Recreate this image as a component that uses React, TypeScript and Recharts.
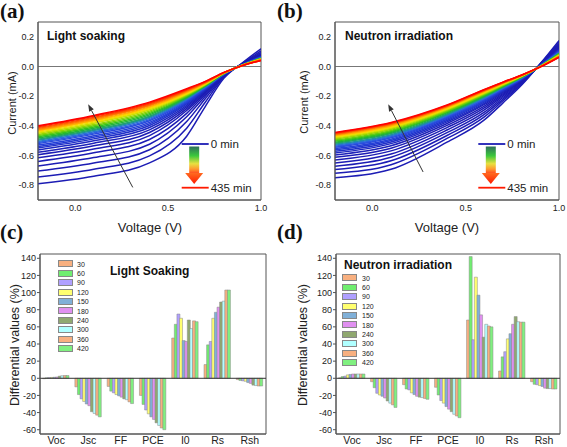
import React from 'react';
import { LineChart, Line, BarChart, Bar, XAxis, YAxis, ReferenceLine, ReferenceArea } from 'recharts';

// I-V sweeps: voltage points (V) and measurement times (min)
const voltages = [-0.2, 0.1, 0.4, 0.6, 0.7, 0.8, 0.9, 1.0];
const minutes = [0, 15, 30, 45, 60, 75, 90, 105, 120, 135, 150, 165, 180, 195, 210, 225, 240, 255, 270, 285, 300, 315, 330, 345, 360, 375, 390, 405, 420, 435];

const curveColors = [
  '#1c1cb4', '#1c1cb4', '#1c1cb4', '#1c1cb4', '#1c1cb4', '#1c1cb4', '#1c1cb4', '#1e22b8', '#1e28c0', '#2030c8',
  '#2238d0', '#2440d8', '#2848dc', '#2c58e0', '#2a70d8', '#1e8ca8', '#20a070', '#20b040', '#30c020', '#60cc10',
  '#90d400', '#c0dc00', '#e8e000', '#ffd000', '#ffb000', '#ff9000', '#ff7000', '#ff5000', '#ff2800', '#ff0000',
];

// current (mA) of each sweep, one row per voltage point — light soaking
const soakingCurrents = [
  [-0.79, -0.745, -0.705, -0.67, -0.64, -0.615, -0.595, -0.578, -0.563, -0.55, -0.54, -0.53, -0.52, -0.512, -0.505, -0.497, -0.49, -0.482, -0.474, -0.466, -0.458, -0.45, -0.443, -0.436, -0.43, -0.424, -0.418, -0.412, -0.406, -0.40],
  [-0.74, -0.693, -0.651, -0.614, -0.582, -0.556, -0.535, -0.517, -0.501, -0.488, -0.477, -0.467, -0.456, -0.448, -0.44, -0.432, -0.425, -0.416, -0.408, -0.399, -0.391, -0.382, -0.375, -0.368, -0.362, -0.355, -0.349, -0.343, -0.336, -0.33],
  [-0.65, -0.603, -0.561, -0.524, -0.492, -0.466, -0.445, -0.427, -0.411, -0.398, -0.387, -0.377, -0.366, -0.358, -0.35, -0.342, -0.335, -0.326, -0.318, -0.309, -0.301, -0.292, -0.285, -0.278, -0.272, -0.265, -0.259, -0.253, -0.246, -0.24],
  [-0.47, -0.416, -0.371, -0.339, -0.316, -0.297, -0.284, -0.272, -0.262, -0.252, -0.246, -0.24, -0.233, -0.227, -0.222, -0.217, -0.212, -0.208, -0.203, -0.198, -0.193, -0.188, -0.184, -0.179, -0.174, -0.169, -0.164, -0.16, -0.155, -0.15],
  [-0.27, -0.241, -0.217, -0.2, -0.188, -0.178, -0.171, -0.165, -0.159, -0.154, -0.151, -0.148, -0.144, -0.141, -0.138, -0.136, -0.133, -0.131, -0.128, -0.125, -0.123, -0.12, -0.118, -0.115, -0.113, -0.11, -0.108, -0.105, -0.103, -0.10],
  [-0.08, -0.073, -0.068, -0.064, -0.061, -0.058, -0.057, -0.055, -0.054, -0.053, -0.052, -0.051, -0.05, -0.05, -0.049, -0.048, -0.048, -0.047, -0.047, -0.046, -0.045, -0.045, -0.044, -0.044, -0.043, -0.042, -0.042, -0.041, -0.041, -0.04],
  [0.025, 0.022, 0.019, 0.017, 0.016, 0.015, 0.014, 0.013, 0.013, 0.012, 0.012, 0.011, 0.011, 0.011, 0.01, 0.01, 0.01, 0.009, 0.009, 0.009, 0.009, 0.008, 0.008, 0.008, 0.007, 0.007, 0.007, 0.007, 0.006, 0.006],
  [0.12, 0.106, 0.095, 0.087, 0.082, 0.077, 0.074, 0.07, 0.068, 0.066, 0.064, 0.062, 0.061, 0.059, 0.058, 0.057, 0.056, 0.054, 0.053, 0.052, 0.051, 0.05, 0.048, 0.047, 0.046, 0.045, 0.044, 0.042, 0.041, 0.04],
];

// neutron irradiation
const neutronCurrents = [
  [-0.75, -0.72, -0.695, -0.672, -0.65, -0.63, -0.612, -0.596, -0.583, -0.572, -0.562, -0.553, -0.545, -0.538, -0.531, -0.524, -0.517, -0.51, -0.503, -0.496, -0.489, -0.482, -0.476, -0.47, -0.465, -0.46, -0.456, -0.452, -0.448, -0.445],
  [-0.693, -0.662, -0.636, -0.612, -0.59, -0.569, -0.551, -0.534, -0.52, -0.509, -0.499, -0.49, -0.481, -0.474, -0.467, -0.46, -0.452, -0.445, -0.438, -0.431, -0.423, -0.416, -0.41, -0.404, -0.399, -0.393, -0.389, -0.385, -0.381, -0.378],
  [-0.51, -0.485, -0.465, -0.446, -0.428, -0.412, -0.397, -0.384, -0.373, -0.364, -0.356, -0.348, -0.342, -0.336, -0.33, -0.325, -0.319, -0.313, -0.307, -0.302, -0.296, -0.29, -0.285, -0.28, -0.276, -0.272, -0.269, -0.266, -0.262, -0.26],
  [-0.36, -0.34, -0.323, -0.308, -0.293, -0.279, -0.267, -0.256, -0.248, -0.24, -0.234, -0.228, -0.222, -0.218, -0.213, -0.208, -0.203, -0.199, -0.194, -0.189, -0.185, -0.18, -0.176, -0.172, -0.169, -0.165, -0.162, -0.16, -0.157, -0.155],
  [-0.245, -0.231, -0.22, -0.209, -0.199, -0.19, -0.182, -0.174, -0.168, -0.163, -0.159, -0.155, -0.151, -0.148, -0.144, -0.141, -0.138, -0.135, -0.132, -0.128, -0.125, -0.122, -0.119, -0.116, -0.114, -0.112, -0.11, -0.108, -0.106, -0.105],
  [-0.125, -0.118, -0.113, -0.108, -0.103, -0.098, -0.094, -0.091, -0.088, -0.085, -0.083, -0.081, -0.079, -0.078, -0.076, -0.075, -0.073, -0.071, -0.07, -0.068, -0.067, -0.065, -0.064, -0.063, -0.061, -0.06, -0.059, -0.059, -0.058, -0.057],
  [0.02, 0.018, 0.016, 0.014, 0.012, 0.011, 0.01, 0.008, 0.007, 0.007, 0.006, 0.005, 0.005, 0.004, 0.003, 0.003, 0.002, 0.002, 0.001, 0.001, 0, 0, -0.001, -0.001, -0.001, -0.002, -0.002, -0.002, -0.003, -0.003],
  [0.175, 0.164, 0.155, 0.146, 0.138, 0.131, 0.124, 0.118, 0.113, 0.109, 0.105, 0.102, 0.099, 0.096, 0.094, 0.091, 0.089, 0.086, 0.083, 0.081, 0.078, 0.076, 0.074, 0.071, 0.069, 0.068, 0.066, 0.065, 0.063, 0.062],
];

// differential values (%) per parameter, one value per time step
const params = ['Voc', 'Jsc', 'FF', 'PCE', 'I0', 'Rs', 'Rsh'];
const barSeries = ['30', '60', '90', '120', '150', '180', '240', '300', '360', '420'];
const barColors = ['#f8b080', '#70ee70', '#b0a0ff', '#ffff70', '#80b0d8', '#e090f0', '#90a870', '#b0ffff', '#f8b080', '#80f080'];

const soakVoc = [-0.5, 0.5, 0.8, 1.0, 1.2, 1.5, 2.5, 3, 3.2, 3.2];
const soakJsc = [-10, -19, -24, -27, -30, -32, -39, -41, -43, -45];
const soakFF = [-9.5, -15, -17, -19, -20.5, -22, -24, -25, -27.5, -29.5];
const soakPCE = [-20, -30.5, -37, -41.5, -45, -48, -52, -55, -58, -60];
const soakI0 = [47, 63, 75, 70, 44, 43, 68, 58, 67, 66];
const soakRs = [16, 39, 43, 70, 77, 83, 89, 90, 103, 103];
const soakRsh = [-1.5, -2.5, -3, -3.5, -5, -6, -8, -8.5, -9, -9];

const neutVoc = [0.5, 2, 2.5, 4, 4.5, 5, 5, 5, 5, 5];
const neutJsc = [-4, -11, -17.5, -19.5, -21, -23, -26.5, -29, -31, -34];
const neutFF = [-7.5, -12.5, -13.5, -17, -19, -21, -22, -22.5, -23.5, -24.5];
const neutPCE = [-10.5, -19.5, -26, -29, -33, -36, -39, -42, -44, -46];
const neutI0 = [68, 142, 45, 118, 97, 74, 48, 63, 61, 60];
const neutRs = [8.5, 25, 31, 46, 52, 63, 72, 66, 65.5, 65.5];
const neutRsh = [-4, -7, -7.5, -8.5, -9.5, -11.5, -12, -12, -12.5, -12.5];

const FONT = '"Liberation Sans", Arial, sans-serif';

const ivRows = (currents: number[][]) =>
  voltages.map((v, i) => {
    const row: Record<string, number> = { v };
    currents[i].forEach((c, k) => { row['c' + k] = c; });
    return row;
  });

const barRows = (byParam: number[][]) =>
  params.map((p, i) => {
    const row: Record<string, any> = { p };
    barSeries.forEach((s, j) => { row['s' + s] = byParam[i][j]; });
    return row;
  });

const arrowShape = (props: any) => {
  const { x1, y1, x2, y2 } = props;
  const a = Math.atan2(y2 - y1, x2 - x1);
  const L = 7, W = 2.6;
  const bx = x2 - L * Math.cos(a), by = y2 - L * Math.sin(a);
  const px = -Math.sin(a) * W, py = Math.cos(a) * W;
  return (
    <g>
      <line x1={x1} y1={y1} x2={bx} y2={by} stroke="#333" strokeWidth={1} />
      <polygon points={`${x2},${y2} ${bx + px},${by + py} ${bx - px},${by - py}`} fill="#333" />
    </g>
  );
};

const ivTick = { fontSize: 9, fill: '#222', fontFamily: FONT };

function IVPanel({ currents, left, width, yWidth, right, arrow }: any) {
  const data = ivRows(currents);
  return (
    <div style={{ position: 'absolute', left, top: 0 }}>
      <LineChart width={width} height={240} data={data} margin={{ top: 22, right, left: 0, bottom: 0 }}>
        <ReferenceArea x1={-0.2} x2={1.0} y1={-0.9} y2={0.3} fill="none" stroke="#555" strokeWidth={1} ifOverflow="visible" />
        <XAxis
          type="number" dataKey="v" domain={[-0.2, 1.0]} ticks={[0, 0.25, 0.5, 0.75, 1.0]} interval={0}
          tickFormatter={(t: number) => (Math.abs(t * 2 - Math.round(t * 2)) < 1e-6 ? t.toFixed(1) : '')}
          height={40} tickSize={0} tickLine={false} tickMargin={5} tick={ivTick} stroke="#555" allowDataOverflow
        />
        <YAxis
          type="number" domain={[-0.9, 0.3]} ticks={[-0.8, -0.6, -0.4, -0.2, 0, 0.2]} interval={0}
          tickFormatter={(t: number) => t.toFixed(1)}
          width={yWidth} tickSize={0} tickLine={false} tickMargin={4} tick={ivTick} stroke="#555" allowDataOverflow
        />
        <ReferenceLine y={0} stroke="#777" strokeWidth={1.2} />
        {minutes.map((m, k) => (
          <Line key={m} dataKey={'c' + k} name={`${m} min`} type="monotone" stroke={curveColors[k]} strokeWidth={1.5} dot={false} isAnimationActive={false} />
        ))}
        <ReferenceLine segment={arrow} shape={arrowShape} />
      </LineChart>
    </div>
  );
}

const barTick = { fontSize: 9, fill: '#222', fontFamily: FONT };

function BarPanel({ byParam, left, width, yWidth, right }: any) {
  const data = barRows(byParam);
  return (
    <div style={{ position: 'absolute', left, top: 225 }}>
      <BarChart width={width} height={222} data={data} margin={{ top: 29, right, left: 0, bottom: 0 }} barCategoryGap="8%" barGap={-0.4}>
        <ReferenceArea y1={-65} y2={145} fill="none" stroke="#555" strokeWidth={1} ifOverflow="visible" />
        <XAxis dataKey="p" height={13} tickSize={0} tickLine={false} tickMargin={3} interval={0} stroke="#555"
          tick={{ fontSize: 10.5, fill: '#222', fontFamily: FONT }} />
        <YAxis type="number" domain={[-65, 145]} ticks={[-60, -40, -20, 0, 20, 40, 60, 80, 100, 120, 140]} interval={0}
          width={yWidth} tickSize={3} tickMargin={1} tick={barTick} stroke="#555" allowDataOverflow />
        <ReferenceLine y={0} stroke="#333" strokeWidth={1} />
        {barSeries.map((s, j) => (
          <Bar key={s} dataKey={'s' + s} name={s} fill={barColors[j]} stroke="#888" strokeWidth={0.5} isAnimationActive={false} />
        ))}
      </BarChart>
    </div>
  );
}

function BarLegend({ top, boxX, textX }: any) {
  return (
    <>
      {barSeries.map((s, j) => (
        <React.Fragment key={s}>
          <div style={{ position: 'absolute', left: boxX, top: top + j * 9.4 - 3.6, width: 15, height: 7, background: barColors[j], border: '0.5px solid #888', boxSizing: 'border-box' }} />
          <div style={{ position: 'absolute', left: textX, top: top + j * 9.4 - 4.5, fontSize: 7, lineHeight: '9px', fontFamily: FONT, color: '#222' }}>{s}</div>
        </React.Fragment>
      ))}
    </>
  );
}

function GradientLegend({ x }: { x: number }) {
  // x = left end of the "0 min" line
  return (
    <g>
      <line x1={x} y1={144} x2={x + 27} y2={144} stroke="#1c1cb4" strokeWidth={1.8} />
      <text x={x + 29} y={144} dy="0.35em" fontSize={11.5} fontFamily={FONT} fill="#222">0 min</text>
      <rect x={x + 7.5} y={146.5} width={10} height={26.5} fill="url(#gradCol)" />
      <polygon points={`${x + 3.5},173 ${x + 21.5},173 ${x + 12.5},184`} fill="url(#gradHead)" />
      <line x1={x} y1={187.7} x2={x + 27} y2={187.7} stroke="#ff1a00" strokeWidth={1.8} />
      <text x={x + 29} y={187.7} dy="0.35em" fontSize={11.5} fontFamily={FONT} fill="#222">435 min</text>
    </g>
  );
}

const title = (text: string, left: number, top: number) => (
  <div style={{ position: 'absolute', left, top, fontSize: 12, fontWeight: 'bold', fontFamily: FONT, color: '#111', lineHeight: '14px', whiteSpace: 'nowrap' }}>{text}</div>
);

const panelLabel = (text: string, left: number, top: number) => (
  <div style={{ position: 'absolute', left, top, fontSize: 21, fontWeight: 'bold', fontFamily: '"Liberation Serif", "Times New Roman", serif', color: '#111', lineHeight: '22px' }}>{text}</div>
);

const vTitle = (text: string, cx: number, cy: number, size: number) => (
  <div style={{ position: 'absolute', left: cx, top: cy, transform: 'translate(-50%, -50%) rotate(-90deg)', fontSize: size, fontFamily: FONT, color: '#222', whiteSpace: 'nowrap', lineHeight: 1 }}>{text}</div>
);

const hTitle = (text: string, cx: number, cy: number, size: number) => (
  <div style={{ position: 'absolute', left: cx, top: cy, transform: 'translate(-50%, -50%)', fontSize: size, fontFamily: FONT, color: '#222', whiteSpace: 'nowrap', lineHeight: 1 }}>{text}</div>
);

export default function App() {
  return (
    <div style={{ position: 'absolute', left: 0, top: 0, width: 567, height: 447, background: '#fff', overflow: 'hidden' }}>
      <IVPanel currents={soakingCurrents} left={0} width={290} yWidth={38} right={29}
        arrow={[{ x: 0.31, y: -0.815 }, { x: 0.07, y: -0.255 }]} />
      <IVPanel currents={neutronCurrents} left={285} width={282} yWidth={50} right={8}
        arrow={[{ x: 0.272, y: -0.711 }, { x: 0.085, y: -0.255 }]} />

      <BarPanel byParam={[soakVoc, soakJsc, soakFF, soakPCE, soakI0, soakRs, soakRsh]} left={0} width={290} yWidth={40} right={24} />
      <BarPanel byParam={[neutVoc, neutJsc, neutFF, neutPCE, neutI0, neutRs, neutRsh]} left={285} width={282} yWidth={51} right={7} />

      <svg width={567} height={447} style={{ position: 'absolute', left: 0, top: 0, pointerEvents: 'none' }}>
        <defs>
          <linearGradient id="gradCol" x1="0" y1="0" x2="0" y2="1">
            <stop offset="0" stopColor="#2f6f5a" />
            <stop offset="0.35" stopColor="#3cc83c" />
            <stop offset="0.65" stopColor="#e8e040" />
            <stop offset="0.85" stopColor="#ff9a30" />
            <stop offset="1" stopColor="#ff5020" />
          </linearGradient>
          <linearGradient id="gradHead" x1="0" y1="0" x2="0" y2="1">
            <stop offset="0" stopColor="#ff6a20" />
            <stop offset="1" stopColor="#ff1a00" />
          </linearGradient>
        </defs>
        <GradientLegend x={181.7} />
        <GradientLegend x={478.3} />
      </svg>

      {panelLabel('(a)', 0, 0)}
      {panelLabel('(b)', 277, 0)}
      {panelLabel('(c)', 0, 221)}
      {panelLabel('(d)', 277, 221)}

      {title('Light soaking', 47, 29)}
      {title('Neutron irradiation', 345, 29)}
      {title('Light Soaking', 110, 264)}
      {title('Neutron irradiation', 344, 258)}

      {vTitle('Current (mA)', 12, 103, 11)}
      {vTitle('Current (mA)', 304, 102, 11)}
      {hTitle('Voltage (V)', 150, 227, 13)}
      {hTitle('Voltage (V)', 447, 227, 13)}
      {vTitle('Differential values (%)', 15, 345, 12.5)}
      {vTitle('Differential values (%)', 303, 345, 12.5)}

      <BarLegend top={264} boxX={58} textX={77} />
      <BarLegend top={278} boxX={342} textX={362} />
    </div>
  );
}
